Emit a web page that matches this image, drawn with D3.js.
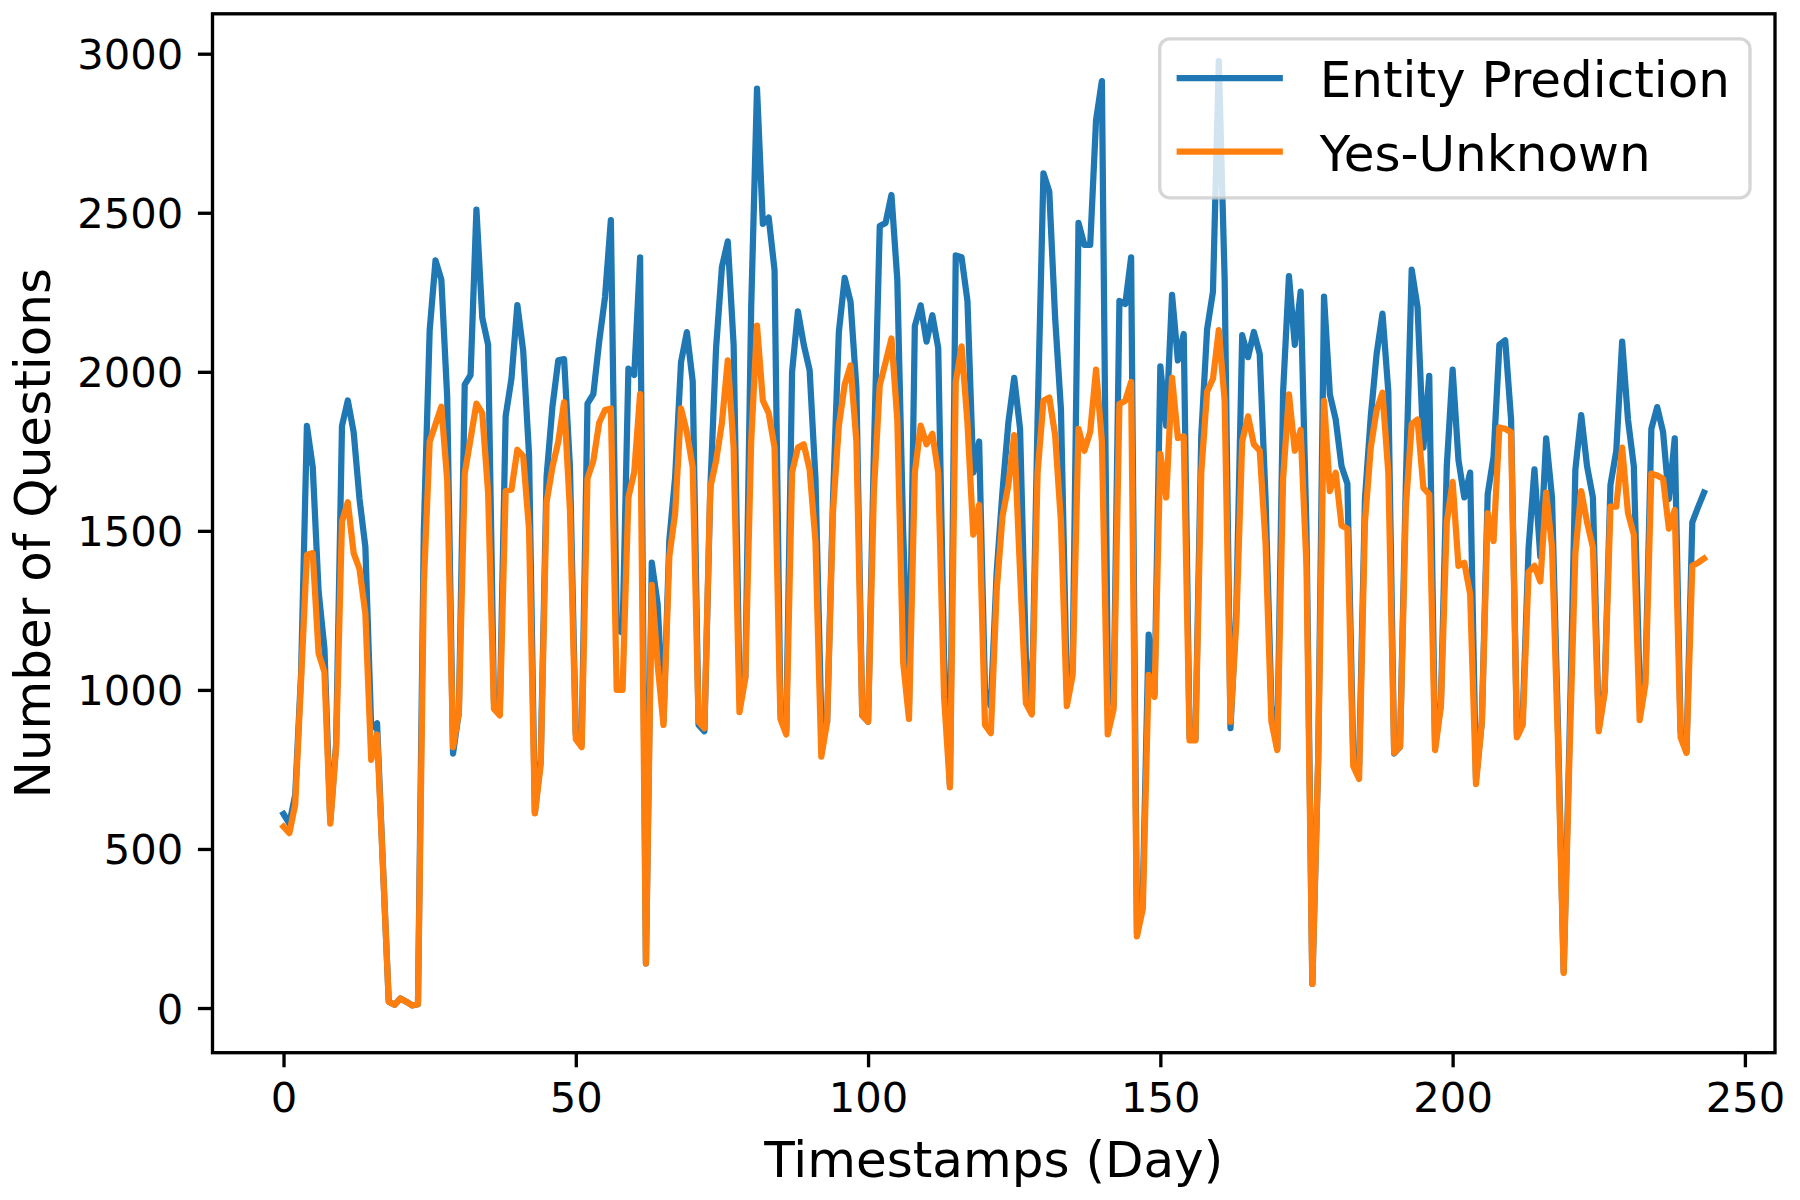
<!DOCTYPE html>
<html>
<head>
<meta charset="utf-8">
<script src="https://cdn.jsdelivr.net/npm/d3@7"></script>
<style>
  html, body { margin: 0; padding: 0; background: #ffffff; }
  svg { display: block; font-family: "DejaVu Sans", sans-serif; }
</style>
</head>
<body>
<svg id="chart" width="1800" height="1200"></svg>
<script>
// ---------------- data ----------------
const seriesNames = ["Entity Prediction", "Yes-Unknown"];
const seriesColors = ["#1f77b4", "#ff7f0e"];

const entityPrediction = [
  610, 580, 670, 1050, 1830, 1700, 1310, 1130, 590, 830,
  1830, 1910, 1810, 1600, 1450, 880, 895, 450, 20, 10,
  30, 20, 8, 12, 1500, 2130, 2350, 2290, 1920, 800,
  930, 1960, 1990, 2510, 2170, 2085, 960, 930, 1860, 1980,
  2210, 2066, 1740, 615, 780, 1670, 1890, 2036, 2040, 1700,
  860, 830, 1900, 1930, 2095, 2235, 2477, 1190, 1180, 2010,
  1990, 2360, 140, 1400, 1270, 900, 1470, 1670, 2030, 2125,
  1970, 890, 870, 1625, 2075, 2330, 2410, 2085, 1000, 1040,
  2200, 2890, 2465, 2485, 2320, 930, 870, 2000, 2190, 2085,
  2005, 1665, 900, 900, 1600, 2125, 2295, 2220, 1950, 920,
  900, 1750, 2458, 2468, 2556, 2290, 1500, 950, 2144, 2209,
  2095, 2178, 2075, 1100, 700, 2366, 2360, 2223, 1683, 1781,
  1000, 949, 1370, 1625, 1840, 1981, 1821, 1100, 930, 1850,
  2624, 2566, 2170, 1880, 1000, 1080, 2468, 2399, 2399, 2791,
  2914, 1040, 950, 2223, 2213, 2360, 233, 360, 1174, 988,
  2017, 1831, 2242, 2036, 2119, 850, 845, 1800, 2134, 2252,
  2977, 2291, 880, 1250, 2115, 2046, 2125, 2056, 1600, 950,
  815, 1938, 2301, 2085, 2252, 1500, 76, 780, 2236, 1929,
  1850, 1703, 1648, 800, 760, 1600, 1860, 2056, 2183, 1938,
  800, 821, 1650, 2321, 2203, 1762, 1987, 820, 960, 1703,
  2007, 1723, 1605, 1683, 720, 900, 1615, 1733, 2085, 2099,
  1850, 860, 920, 1448, 1693, 1419, 1791, 1605, 900, 115,
  850, 1693, 1864, 1703, 1605, 880, 998, 1644, 1752, 2095,
  1850, 1703, 1000, 1050, 1821, 1889, 1811, 1600, 1791, 870,
  805, 1527, 1575, 1620
];

const yesUnknown = [
  570, 550, 640, 1030, 1425, 1430, 1115, 1056, 580, 820,
  1530, 1590, 1430, 1380, 1240, 780, 860, 450, 20, 10,
  30, 20, 8, 12, 1330, 1780, 1835, 1890, 1660, 820,
  930, 1680, 1790, 1900, 1870, 1620, 940, 920, 1625, 1630,
  1755, 1735, 1505, 612, 765, 1590, 1700, 1780, 1905, 1565,
  845, 820, 1665, 1720, 1840, 1880, 1885, 1000, 1000, 1605,
  1685, 1930, 140, 1330, 1080, 890, 1420, 1555, 1885, 1810,
  1700, 900, 880, 1635, 1720, 1840, 2036, 1760, 930, 1037,
  1780, 2145, 1910, 1870, 1762, 909, 860, 1683, 1762, 1772,
  1693, 1468, 790, 900, 1560, 1830, 1960, 2020, 1780, 920,
  900, 1625, 1958, 2030, 2105, 1850, 1086, 909, 1683, 1831,
  1772, 1805, 1683, 978, 694, 1968, 2080, 1840, 1488, 1582,
  890, 864, 1311, 1546, 1644, 1801, 1370, 958, 923, 1683,
  1909, 1919, 1801, 1527, 949, 1047, 1821, 1752, 1811, 2007,
  1782, 860, 939, 1899, 1909, 1968, 225, 312, 1047, 978,
  1742, 1605, 1981, 1792, 1797, 841, 841, 1683, 1938, 1978,
  2131, 1909, 900, 1213, 1781, 1860, 1772, 1752, 1460, 900,
  811, 1664, 1929, 1752, 1817, 1390, 76, 780, 1909, 1625,
  1683, 1517, 1507, 760, 720, 1527, 1762, 1880, 1934, 1683,
  802, 821, 1576, 1836, 1850, 1635, 1615, 811, 949, 1527,
  1654, 1390, 1400, 1301, 704, 900, 1556, 1468, 1825, 1821,
  1810, 851, 890, 1370, 1390, 1341, 1620, 1450, 850, 110,
  800, 1430, 1625, 1527, 1448, 870, 990, 1576, 1576, 1762,
  1556, 1488, 905, 1020, 1680, 1674, 1664, 1507, 1566, 851,
  802, 1390, 1400, 1413
];

const xTicks = [0, 50, 100, 150, 200, 250];
const yTicks = [0, 500, 1000, 1500, 2000, 2500, 3000];
const xLabel = "Timestamps (Day)";
const yLabel = "Number of Questions";

// ---------------- layout ----------------
const W = 1800, H = 1200;
const plot = { left: 212.5, right: 1775, top: 13.8, bottom: 1052.7 };
const DPI_PT = 300 / 72;
const lineW = 1.5 * DPI_PT;
const spineW = 0.8 * DPI_PT;
const tickLen = 3.5 * DPI_PT;
const tickPad = 3.5 * DPI_PT;
const tickFont = 10 * DPI_PT;
const labelFont = 12 * DPI_PT;
const legendFont = 12 * DPI_PT;

const series = [entityPrediction, yesUnknown];
const days = d3.range(entityPrediction.length);

// matplotlib-like 5% margins
const xExt = d3.extent(days);
const xm = (xExt[1] - xExt[0]) * 0.05;
const allVals = entityPrediction.concat(yesUnknown);
const yExt = d3.extent(allVals);
const ym = (yExt[1] - yExt[0]) * 0.05;

const x = d3.scaleLinear().domain([xExt[0] - xm, xExt[1] + xm]).range([plot.left, plot.right]);
const y = d3.scaleLinear().domain([yExt[0] - ym, yExt[1] + ym]).range([plot.bottom, plot.top]);

const svg = d3.select("#chart");
svg.append("rect").attr("width", W).attr("height", H).attr("fill", "#ffffff");

// lines
const line = d3.line().x((d, i) => x(days[i])).y(d => y(d));
const linesG = svg.append("g");
series.forEach((s, k) => {
  linesG.append("path")
    .datum(s)
    .attr("d", line)
    .attr("fill", "none")
    .attr("stroke", seriesColors[k])
    .attr("stroke-width", lineW)
    .attr("stroke-linejoin", "round")
    .attr("stroke-linecap", "square");
});

// axes
const xAxis = d3.axisBottom(x).tickValues(xTicks).tickSize(tickLen).tickPadding(tickPad).tickFormat(d3.format("d"));
const yAxis = d3.axisLeft(y).tickValues(yTicks).tickSize(tickLen).tickPadding(tickPad).tickFormat(d3.format("d"));

const gx = svg.append("g").attr("transform", `translate(0,${plot.bottom})`).call(xAxis);
const gy = svg.append("g").attr("transform", `translate(${plot.left},0)`).call(yAxis);
[gx, gy].forEach(g => {
  g.select(".domain").remove();
  g.selectAll(".tick line").attr("stroke", "#000").attr("stroke-width", spineW);
  g.selectAll(".tick text")
    .attr("fill", "#000")
    .style("font-family", "DejaVu Sans")
    .style("font-size", tickFont + "px");
});
gx.selectAll(".tick text").attr("dy", "0.73em");
gy.selectAll(".tick text").attr("dy", "0.36em");

// spines
svg.append("rect")
  .attr("x", plot.left).attr("y", plot.top)
  .attr("width", plot.right - plot.left).attr("height", plot.bottom - plot.top)
  .attr("fill", "none").attr("stroke", "#000").attr("stroke-width", spineW);

// axis labels
svg.append("text")
  .attr("x", (plot.left + plot.right) / 2).attr("y", 1177)
  .attr("text-anchor", "middle")
  .style("font-size", labelFont + "px")
  .attr("fill", "#000")
  .text(xLabel);

svg.append("text")
  .attr("transform", `translate(50,${(plot.top + plot.bottom) / 2}) rotate(-90)`)
  .attr("text-anchor", "middle")
  .style("font-size", labelFont + "px")
  .attr("fill", "#000")
  .text(yLabel);

// legend
const pad = 0.5 * legendFont;          // borderaxespad
const borderPad = 0.4 * legendFont;
const handleLen = 2.0 * legendFont;
const handleTextPad = 0.8 * legendFont;
const rowH = 73.5;
const legendG = svg.append("g");
const legendRect = legendG.append("rect");
const texts = [];
seriesNames.forEach((name, k) => {
  texts.push(legendG.append("text")
    .attr("y", 97 + k * rowH)
    .style("font-size", legendFont + "px")
    .attr("fill", "#000")
    .text(name));
});
const maxW = d3.max(texts, t => t.node().getComputedTextLength());
const boxRight = plot.right - pad;
const boxW = borderPad + handleLen + handleTextPad + maxW + borderPad;
const boxLeft = boxRight - boxW;
const boxTop = plot.top + pad;
const boxH = 159;
legendRect
  .attr("x", boxLeft).attr("y", boxTop)
  .attr("width", boxW).attr("height", boxH)
  .attr("rx", 0.2 * legendFont).attr("ry", 0.2 * legendFont)
  .attr("fill", "#ffffff").attr("fill-opacity", 0.8)
  .attr("stroke", "#cccccc").attr("stroke-opacity", 0.8)
  .attr("stroke-width", spineW);
seriesNames.forEach((name, k) => {
  const cy = 78 + k * rowH;
  legendG.append("line")
    .attr("x1", boxLeft + borderPad).attr("x2", boxLeft + borderPad + handleLen)
    .attr("y1", cy).attr("y2", cy)
    .attr("stroke", seriesColors[k]).attr("stroke-width", lineW)
    .attr("stroke-linecap", "square");
  texts[k].attr("x", boxLeft + borderPad + handleLen + handleTextPad);
});
</script>
</body>
</html>
